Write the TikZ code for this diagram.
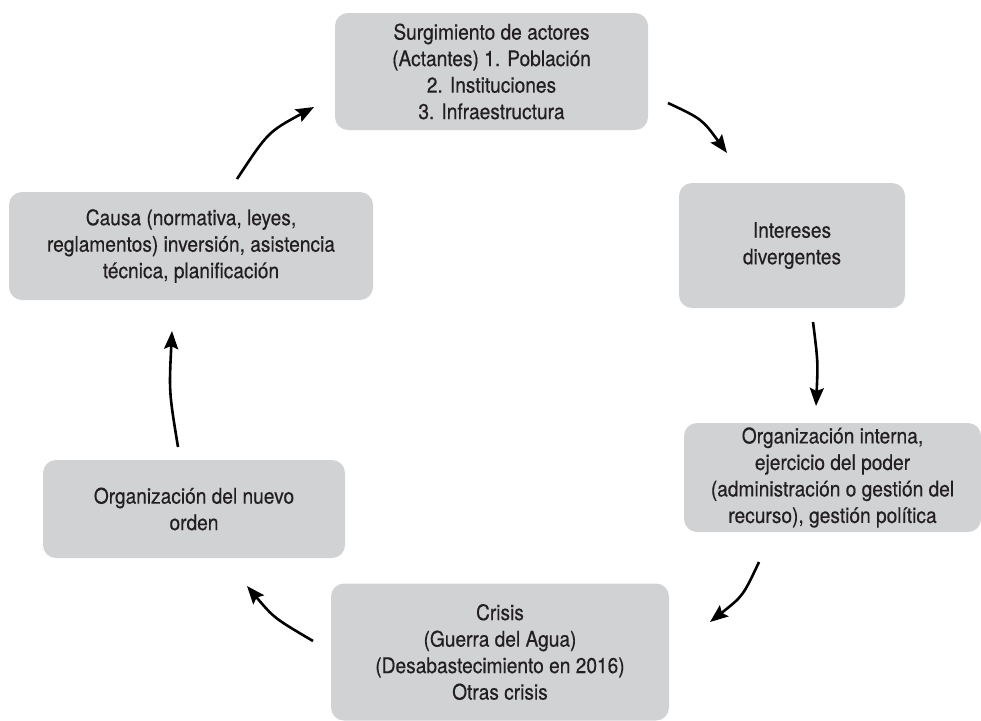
\documentclass[tikz,border=0pt]{standalone}
\usepackage{fontspec}
\setmainfont{TeX Gyre Heros}[FakeStretch=0.89,FakeBold=0.4]
\usetikzlibrary{arrows.meta}
\definecolor{boxgray}{HTML}{D1D2D4}
\definecolor{ink}{HTML}{231F20}
\begin{document}
\begin{tikzpicture}[x=1pt,y=-1pt,
  stagebox/.style={fill=boxgray, rounded corners=13pt, align=center, text=ink,
    font=\fontsize{21.5}{26.5}\selectfont, inner sep=0pt},
  flow/.style={line width=2.6pt, draw=black, -{Stealth[length=18pt,width=14pt,inset=3pt]}}
]
\useasboundingbox (0,0) rectangle (981,720);
\node[stagebox, minimum width=313pt, minimum height=117pt] (top) at (491.5,71.5)
  {Surgimiento de actores\\(Actantes) 1. Población\\2. Instituciones\\3. Infraestructura};
\node[stagebox, minimum width=226pt, minimum height=125pt] (inter) at (792,245.5)
  {Intereses\\divergentes};
\node[stagebox, minimum width=297pt, minimum height=109pt] (orgint) at (832.5,477.5)
  {Organización interna,\\ejercicio del poder\\(administración o gestión del\\recurso), gestión política};
\node[stagebox, minimum width=338pt, minimum height=137pt] (crisis) at (500,652)
  {Crisis\\(Guerra del Agua)\\(Desabastecimiento en 2016)\\Otras crisis};
\node[stagebox, minimum width=302pt, minimum height=98pt] (nuevo) at (194,509)
  {Organización del nuevo\\orden};
\node[stagebox, minimum width=364pt, minimum height=108pt] (causa) at (191,246)
  {Causa (normativa, leyes,\\reglamentos) inversión, asistencia\\técnica, planificación};

\coordinate (a1s) at (668,103); \coordinate (a1e) at (727,153);
\coordinate (a2s) at (813,322); \coordinate (a2e) at (816,406);
\coordinate (a3s) at (759,562); \coordinate (a3e) at (710,622);
\coordinate (a4s) at (313,641); \coordinate (a4e) at (247,586);
\coordinate (a5s) at (178,447); \coordinate (a5e) at (172,331);
\coordinate (a6s) at (237,179); \coordinate (a6e) at (314,107);

\draw[flow] (a1s) .. controls (702,119) .. (a1e);
\draw[flow] (a2s) .. controls (818,362) .. (a2e);
\draw[flow] (a3s) .. controls (743,596) .. (a3e);
\draw[flow] (a4s) .. controls (274,618) .. (a4e);
\draw[flow] (a5s) .. controls (169,392) .. (a5e);
\draw[flow] (a6s) .. controls (268,132) .. (a6e);
\end{tikzpicture}
\end{document}
